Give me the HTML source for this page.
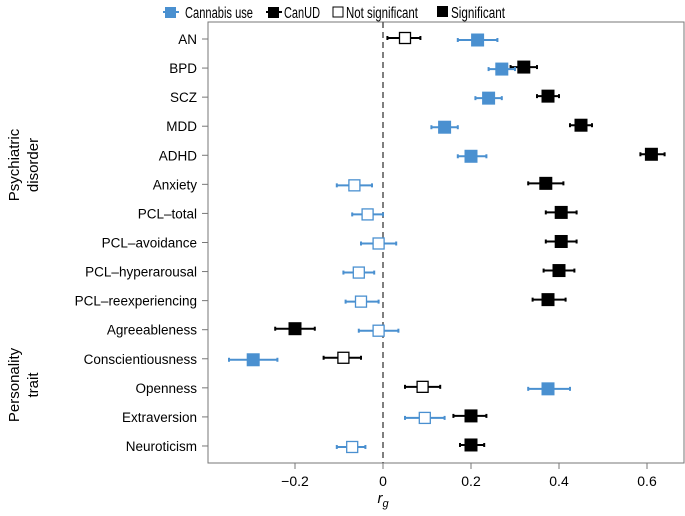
<!DOCTYPE html>
<html><head><meta charset="utf-8"><style>
body{margin:0;background:#fff;font-family:"Liberation Sans",sans-serif}
svg text{font-family:"Liberation Sans",sans-serif}
</style></head><body>
<svg id="chart" width="685" height="511" viewBox="0 0 685 511" xmlns="http://www.w3.org/2000/svg">
<g id="legend">
 <g><line x1="163" y1="12" x2="179" y2="12" stroke="#4a90d0" stroke-width="2"/><rect x="165" y="7" width="11" height="11" fill="#4a90d0"/><text x="185" y="18" font-size="15.5" textLength="68" lengthAdjust="spacingAndGlyphs">Cannabis use</text></g>
 <g><line x1="266" y1="12" x2="282" y2="12" stroke="#000" stroke-width="2"/><rect x="268" y="7" width="11" height="11" fill="#000"/><text x="284" y="18" font-size="15.5" textLength="36" lengthAdjust="spacingAndGlyphs">CanUD</text></g>
 <g><rect x="333" y="7" width="10" height="10" fill="#fff" stroke="#000"/><text x="346" y="18" font-size="15.5" textLength="72" lengthAdjust="spacingAndGlyphs">Not significant</text></g>
 <g><rect x="437" y="6" width="11" height="11" fill="#000"/><text x="451" y="18" font-size="15.5" textLength="54" lengthAdjust="spacingAndGlyphs">Significant</text></g>
</g>
<rect x="208" y="22" width="476" height="441" fill="none" stroke="#777" stroke-width="1"/>
<g id="plot"></g>
<text x="383" y="503" font-size="15" font-style="italic" text-anchor="middle">r<tspan font-size="11" dy="4">g</tspan></text>
<text transform="translate(19,165) rotate(-90)" font-size="15" text-anchor="middle"><tspan x="0" dy="0">Psychiatric</tspan><tspan x="0" dy="19">disorder</tspan></text>
<text transform="translate(19,385) rotate(-90)" font-size="15" text-anchor="middle"><tspan x="0" dy="0">Personality</tspan><tspan x="0" dy="19">trait</tspan></text>
</svg>
<script>
const categories=["AN","BPD","SCZ","MDD","ADHD","Anxiety","PCL–total","PCL–avoidance","PCL–hyperarousal","PCL–reexperiencing","Agreeableness","Conscientiousness","Openness","Extraversion","Neuroticism"];
const cannabisVal=[0.215,0.27,0.24,0.14,0.20,-0.065,-0.035,-0.01,-0.055,-0.05,-0.01,-0.295,0.375,0.095,-0.07];
const cannabisLo=[0.17,0.24,0.21,0.11,0.17,-0.105,-0.07,-0.05,-0.09,-0.085,-0.055,-0.35,0.33,0.05,-0.105];
const cannabisHi=[0.26,0.30,0.27,0.17,0.235,-0.025,0,0.03,-0.02,-0.01,0.035,-0.24,0.425,0.14,-0.04];
const cannabisSig=[1,1,1,1,1,0,0,0,0,0,0,1,1,0,0];
const canudVal=[0.05,0.32,0.375,0.45,0.61,0.37,0.405,0.405,0.40,0.375,-0.20,-0.09,0.09,0.20,0.20];
const canudLo=[0.01,0.29,0.35,0.425,0.585,0.33,0.37,0.37,0.365,0.34,-0.245,-0.135,0.05,0.16,0.175];
const canudHi=[0.085,0.35,0.40,0.475,0.64,0.41,0.44,0.44,0.435,0.415,-0.155,-0.05,0.13,0.235,0.23];
const canudSig=[0,1,1,1,1,1,1,1,1,1,1,0,0,1,1];
const xTicks=[-0.2,0,0.2,0.4,0.6];
const xTickLabels=["−0.2","0","0.2","0.4","0.6"];

const NS="http://www.w3.org/2000/svg";
const g=document.getElementById('plot');
const xs=v=>383+v*440;
const ys=i=>39+i*29.07;
function mk(tag,at){const e=document.createElementNS(NS,tag);for(const k in at)e.setAttribute(k,at[k]);g.appendChild(e);return e;}
const zl=mk('line',{x1:xs(0),x2:xs(0),y1:22,y2:463,stroke:'#555','stroke-width':1.5,'stroke-dasharray':'6,4'});


xTicks.forEach((t,i)=>{
 const l=mk('line',{x1:xs(t),x2:xs(t),y1:463,y2:469,stroke:'#777'});
 
 
 const tx=mk('text',{x:xs(t),y:486,'font-size':14,'text-anchor':'middle'});
 tx.textContent=xTickLabels[i];
 
 
});
categories.forEach((c,i)=>{
 const y=ys(i);
 const l=mk('line',{x1:202,x2:208,y1:y,y2:y,stroke:'#777'});
 
 
 const tx=mk('text',{x:197,y:y+5,'font-size':13.5,'text-anchor':'end'});
 tx.textContent=c;
 
 
});
function series(vals,lo,hi,sig,color,dy,name){
 vals.forEach((v,i)=>{
  const y=ys(i)+dy;
  const e=mk('line',{x1:xs(lo[i]),x2:xs(hi[i]),y1:y,y2:y,stroke:color,'stroke-width':2});
  
  
  [lo[i],hi[i]].forEach(b=>{const cp=mk('line',{x1:xs(b),x2:xs(b),y1:y-2,y2:y+2,stroke:color,'stroke-width':2});});
  const s=sig[i]?13:11;
  const r=mk('rect',{x:xs(v)-s/2,y:y-s/2,width:s,height:s,fill:sig[i]?color:'#fff',stroke:color,'stroke-width':sig[i]?0:1.3});
  
  
 });
}
series(canudVal,canudLo,canudHi,canudSig,'#000',-1,'canud');
series(cannabisVal,cannabisLo,cannabisHi,cannabisSig,'#4a90d0',1,'cannabis-use');
</script>
</body></html>
